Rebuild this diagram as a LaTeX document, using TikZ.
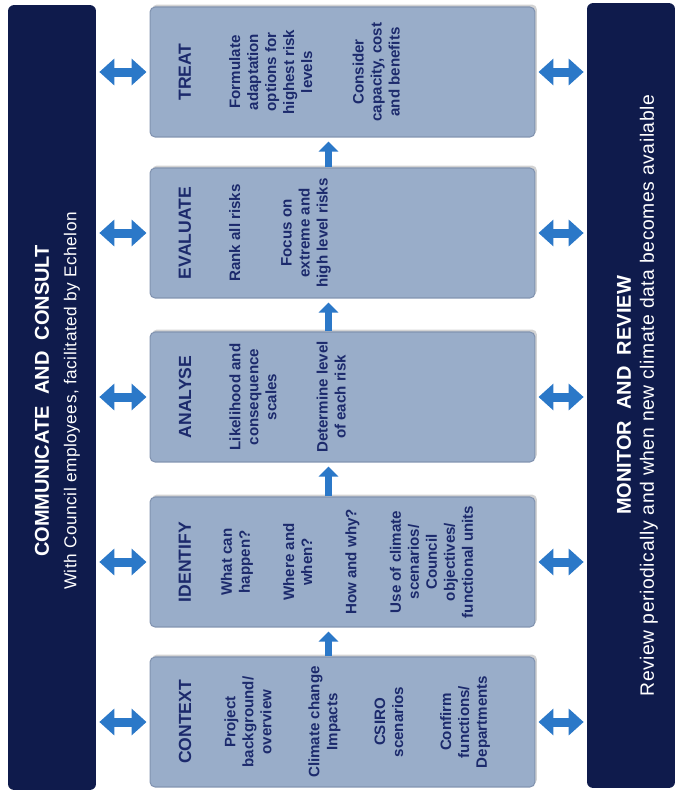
\documentclass[tikz,border=0pt]{standalone}
\usepackage{fontspec}
\setmainfont{Liberation Sans}
\newfontfamily\spacedfont[LetterSpace=3]{Liberation Sans}
\usetikzlibrary{positioning,arrows.meta,shadows}
\definecolor{barblue}{HTML}{0F1B4C}
\definecolor{boxgrey}{HTML}{99ADC9}
\definecolor{boxedge}{HTML}{8193B0}
\definecolor{stageink}{HTML}{1C2A6C}
\definecolor{arrowblue}{HTML}{2B78C8}

\begin{document}
\begin{tikzpicture}[x=0.02cm,y=-0.02cm,
  bar/.style={rectangle,rounded corners=0.12cm,fill=barblue,minimum width=1.76cm,minimum height=15.7cm},
  stagebox/.style={rectangle,rounded corners=0.1cm,fill=boxgrey,draw=boxedge,line width=0.6pt,
    minimum width=7.7cm,minimum height=2.6cm,
    drop shadow={shadow xshift=0.04cm,shadow yshift=0.05cm,opacity=0.35}},
  stagetext/.style={rotate=90,anchor=north,align=center,inner sep=0pt,text=stageink,
    font=\fontsize{8.6}{10.24}\selectfont\bfseries},
  bartitle/.style={rotate=90,inner sep=0pt,text=white,font=\fontsize{11.4}{13}\selectfont\bfseries},
  barsub/.style={rotate=90,inner sep=0pt,text=white,font={\spacedfont\fontsize{9.8}{12}\selectfont}},
  dblarrow/.style={draw=arrowblue,line width=0.18cm,
    {Triangle[width=0.52cm,length=0.3cm]}-{Triangle[width=0.52cm,length=0.3cm]},
    shorten <=0.06cm,shorten >=0.06cm},
  uparrow/.style={draw=arrowblue,line width=0.13cm,-{Triangle[width=0.38cm,length=0.2cm]},
    shorten >=0.08cm}]
\useasboundingbox (0,0) rectangle (679,799);

% side bars
\node[bar] (consult) at (52,397.5) {};
\node[bar] (monitor) at (631,395.5) {};
\node[bartitle] (consult-title) at ([xshift=-0.2cm,yshift=-0.07cm]consult.center) {COMMUNICATE\ \ AND\ \ CONSULT};
\node[barsub] (consult-sub) at ([xshift=0.4cm,yshift=-0.07cm]consult.center) {With Council employees, facilitated by Echelon};
\node[bartitle] (monitor-title) at ([xshift=-0.14cm]monitor.center) {MONITOR\ \ AND\ \ REVIEW};
\node[barsub,font={\spacedfont\fontsize{11}{13}\selectfont}] (monitor-sub) at ([xshift=0.36cm]monitor.center) {Review periodically and when new climate data becomes available};

% process steps
\foreach \n/\y in {treat/72,evaluate/233,analyse/397,identify/562,context/722} {
  \node[stagebox] (\n) at (342.5,\y) {};
}
\node[stagetext] (treat-text) at ([xshift=0.58cm]treat.west) {{\fontsize{10}{12}\selectfont TREAT}\\[17.8pt]
  Formulate\\adaptation\\options for\\highest risk\\levels\\[19pt]
  Consider\\capacity, cost\\and benefits};
\node[stagetext] (evaluate-text) at ([xshift=0.58cm]evaluate.west) {{\fontsize{10}{12}\selectfont EVALUATE}\\[17.8pt]
  Rank all risks\\[19pt]
  Focus on\\extreme and\\high level risks};
\node[stagetext] (analyse-text) at ([xshift=0.58cm]analyse.west) {{\fontsize{10}{12}\selectfont ANALYSE}\\[17.8pt]
  Likelihood and\\consequence\\scales\\[19pt]
  Determine level\\of each risk};
\node[stagetext] (identify-text) at ([xshift=0.58cm]identify.west) {{\fontsize{10}{12}\selectfont IDENTIFY}\\[13pt]
  What can\\happen?\\[15pt]
  Where and\\when?\\[15pt]
  How and why?\\[15pt]
  Use of climate\\scenarios/\\Council\\objectives/\\functional units};
\node[stagetext] (context-text) at ([xshift=0.58cm]context.west) {{\fontsize{10}{12}\selectfont CONTEXT}\\[15pt]
  Project\\background/\\overview\\[17pt]
  Climate change\\Impacts\\[17pt]
  CSIRO\\scenarios\\[17pt]
  Confirm\\functions/\\Departments};

% connectors
\foreach \n in {treat,evaluate,analyse,identify,context} {
  \draw[dblarrow] (consult.east |- \n.west) -- (\n.west);
  \draw[dblarrow] (\n.east) -- (monitor.west |- \n.east);
}
\foreach \from/\to in {context/identify,identify/analyse,analyse/evaluate,evaluate/treat} {
  \draw[uparrow] ([xshift=-0.28cm]\from.north) -- ([xshift=-0.28cm]\to.south);
}
\end{tikzpicture}
\end{document}
